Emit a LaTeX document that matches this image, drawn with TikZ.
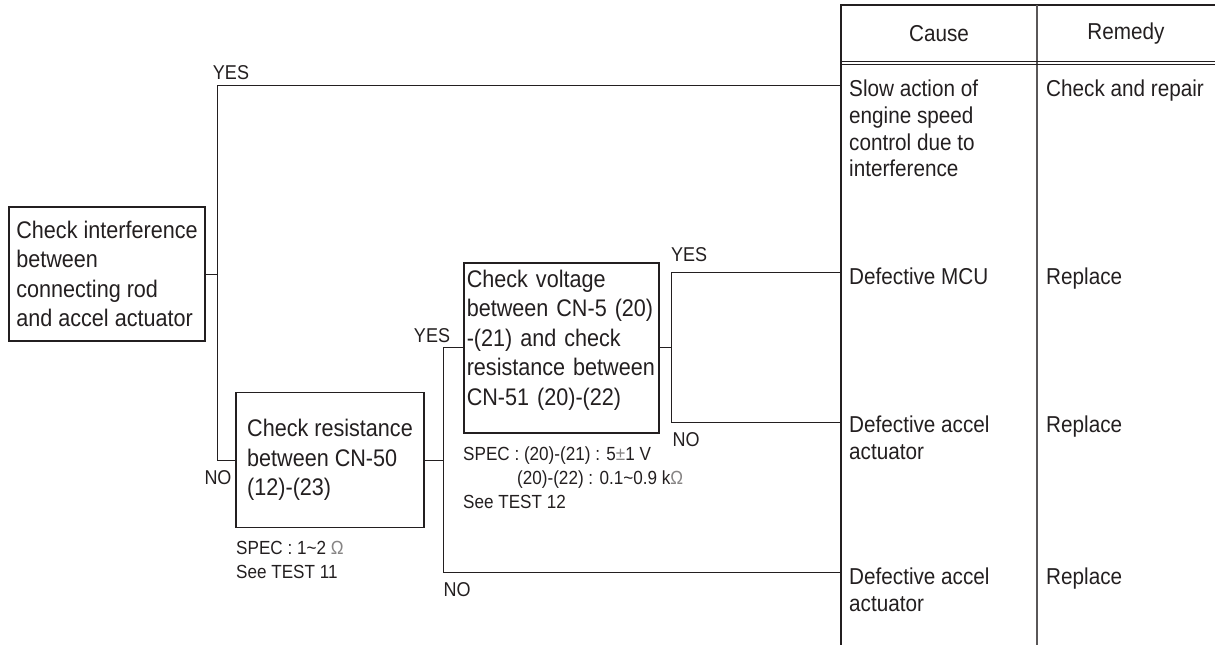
\documentclass[tikz,border=0pt]{standalone}
\usepackage{fontspec}
\setmainfont{Liberation Sans}[FakeStretch=0.9]
\usetikzlibrary{positioning,calc}
\definecolor{ink}{RGB}{35,31,32}
\newcommand\boxfont{\fontsize{24}{29.6}\selectfont}
\newcommand\tabfont{\fontsize{23}{26.7}\selectfont}
\newcommand\specfont{\fontsize{19}{24}\selectfont}
\newcommand\tagfont{\fontsize{20}{24}\selectfont}
\tikzset{
  chk/.style={draw=ink,line width=1.5pt,align=left,font=\boxfont,text=ink},
  tag/.style={inner sep=0pt,font=\tagfont,text=ink},
  spec/.style={inner sep=0pt,align=left,font=\specfont,text=ink,anchor=north west},
  cell/.style={inner sep=0pt,align=left,font=\tabfont,text=ink,anchor=north west},
  head/.style={inner sep=0pt,font=\tabfont,text=ink},
  link/.style={draw=ink,line width=1pt},
  rule/.style={draw=ink,line width=#1},
  rule/.default=1pt,
}
\begin{document}
\begin{tikzpicture}[x=1pt,y=-1pt]
  \useasboundingbox (0,0) rectangle (1215,645);
  % check boxes
  \node[chk,minimum width=196pt,minimum height=134pt] (chk1) at (107,274) {Check interference\\between\\connecting rod\\and accel actuator};
  \node[chk,minimum width=188pt,minimum height=135pt] (chk2) at (330,460) {Check resistance\\between CN-50\\(12)-(23)};
  \node[chk,anchor=north west,text width=189pt,inner xsep=3pt,inner ysep=7pt,text depth=139pt] (chk3) at (463,262)
    {Check voltage\\between CN-5 (20)\\-(21) and check\\resistance between\\CN-51 (20)-(22)};
  \node[spec] (spec2) at (236,541) {SPEC : 1\textasciitilde2 \textcolor{ink!55}{Ω}\\See TEST 11};
  \node[spec] (spec3) at (463,447) {SPEC : (20)-(21) : 5\textcolor{ink!55}{±}1 V\\\hspace*{54pt}(20)-(22) : 0.1\textasciitilde0.9 k\textcolor{ink!55}{Ω}\\See TEST 12};
  % table
  \draw[rule=2pt] (841,4) -- (841,645);
  \draw[rule=2pt] (840,5) -- (1215,5);
  \draw[rule=1.5pt,ink!75] (1037,5) -- (1037,645);
  \draw[rule] (841,61) -- (1215,61) (841,64.5) -- (1215,64.5);
  \node[head] (hcause) at (939,34) {Cause};
  \node[head] (hremedy) at (1126,34) {Remedy};
  \node[cell] (cause1) at (849,80) {Slow action of\\engine speed\\control due to\\interference};
  \node[cell] (remedy1) at (1046,80) {Check and repair};
  \node[cell] (cause2) at (849,268) {Defective MCU};
  \node[cell] (remedy2) at (1046,268) {Replace};
  \node[cell] (cause3) at (849,416) {Defective accel\\actuator};
  \node[cell] (remedy3) at (1046,416) {Replace};
  \node[cell] (cause4) at (849,568) {Defective accel\\actuator};
  \node[cell] (remedy4) at (1046,568) {Replace};
  \coordinate (r1) at (841,85);
  \coordinate (r2) at (841,272);
  \coordinate (r3) at (841,422);
  \coordinate (r4) at (841,572);
  % branches
  \coordinate (j1) at ($(chk1.east)+(12,0)$);
  \coordinate (j2) at ($(chk2.east)+(19,0)$);
  \coordinate (j3) at ($(chk3.east)+(12,0)$);
  \draw[link] (chk1.east) -- (j1) (r1) -| (j1) |- (chk2.west);
  \draw[link] (chk2.east) -- (j2) (chk3.west) -| (j2) |- (r4);
  \draw[link] (chk3.east) -- (j3) (r2) -| (j3) |- (r3);
  \node[tag] (yes1) at (231,73) {YES};
  \node[tag] (no1) at (218,478) {NO};
  \node[tag] (yes2) at (432,336) {YES};
  \node[tag] (no2) at (457,590) {NO};
  \node[tag] (yes3) at (689,255) {YES};
  \node[tag] (no3) at (686,440) {NO};
\end{tikzpicture}
\end{document}
